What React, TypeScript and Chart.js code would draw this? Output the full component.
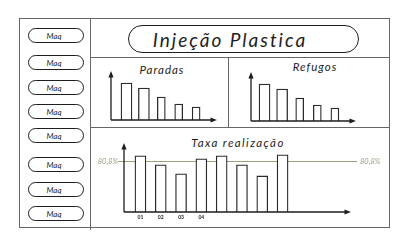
import React, { useEffect, useRef } from "react";
import { Chart, registerables } from "chart.js";

Chart.register(...registerables);

// ---- data ----
const machineLabels = ["Maq", "Maq", "Maq", "Maq", "Maq", "Maq", "Maq", "Maq"];
const pageTitle = "Injeção Plastica";

const paradasTitle = "Paradas";
const paradasValues = [37, 32, 23, 16, 13];

const refugosTitle = "Refugos";
const refugosValues = [37, 32, 23, 16, 13];

const taxaTitle = "Taxa realização";
const taxaCategories = ["01", "02", "03", "04", "", "", "", ""];
const taxaValues = [88.7, 74.5, 60.2, 84, 88.7, 74.5, 57, 90.3];
const taxaTarget = 80.8;
const taxaTargetLabel = "80,8%";

const HAND = "Lato, 'Liberation Sans', 'DejaVu Sans', sans-serif";
const INK = "#1e1e1e";
const FRAME = "#666";
const OLIVE = "#9ea07c";

type Rect = { left: number; top: number; width: number; height: number };

function drawAxes(chart: any) {
  const { ctx, chartArea: a } = chart;
  ctx.save();
  ctx.strokeStyle = INK;
  ctx.fillStyle = INK;
  ctx.lineWidth = 1.3;
  ctx.beginPath();
  ctx.moveTo(a.left, a.bottom);
  ctx.lineTo(a.left, a.top + 5);
  ctx.moveTo(a.left, a.bottom);
  ctx.lineTo(a.right - 5, a.bottom);
  ctx.stroke();
  ctx.beginPath();
  ctx.moveTo(a.left, a.top);
  ctx.lineTo(a.left - 2.6, a.top + 6.5);
  ctx.lineTo(a.left + 2.6, a.top + 6.5);
  ctx.closePath();
  ctx.fill();
  ctx.beginPath();
  ctx.moveTo(a.right, a.bottom);
  ctx.lineTo(a.right - 6.5, a.bottom - 2.6);
  ctx.lineTo(a.right - 6.5, a.bottom + 2.6);
  ctx.closePath();
  ctx.fill();
  ctx.restore();
}

const axesPlugin = {
  id: "sketchAxes",
  afterDatasetsDraw(chart: any) {
    drawAxes(chart);
  },
};

function SketchChart({ rect, config }: { rect: Rect; config: any }) {
  const ref = useRef<HTMLCanvasElement | null>(null);
  useEffect(() => {
    if (!ref.current) return;
    const chart = new Chart(ref.current, config);
    return () => chart.destroy();
  }, []);
  return (
    <canvas
      ref={ref}
      width={rect.width}
      height={rect.height}
      style={{ position: "absolute", left: rect.left, top: rect.top, width: rect.width, height: rect.height }}
    />
  );
}

function barStyle(thickness: number) {
  return {
    backgroundColor: "#fff",
    borderColor: "#2a2a2a",
    borderWidth: 1.3,
    barThickness: thickness,
    grouped: false,
  };
}

function xScale(min: number, max: number) {
  return { type: "linear", min, max, offset: false, display: false, grid: { offset: false } };
}

function smallBarConfig(values: number[], padding: any, xMin: number, xMax: number, yMax: number) {
  const pts = values.map((v, i) => ({ x: i, y: v }));
  return {
    type: "bar",
    data: {
      datasets: [
        { data: pts.filter((p) => p.x < 2), ...barStyle(11) },
        { data: pts.filter((p) => p.x >= 2), ...barStyle(8) },
      ],
    },
    options: {
      animation: false,
      responsive: false,
      layout: { padding },
      plugins: { legend: { display: false }, tooltip: { enabled: false }, title: { display: false } },
      scales: {
        x: xScale(xMin, xMax),
        y: { min: 0, max: yMax, display: false },
      },
    },
    plugins: [axesPlugin],
  };
}

const taxaPlugin = {
  id: "taxaExtras",
  beforeDatasetsDraw(chart: any) {
    const { ctx, chartArea: a, scales } = chart;
    const y = Math.round(scales.y.getPixelForValue(taxaTarget)) + 0.5;
    ctx.save();
    ctx.strokeStyle = OLIVE;
    ctx.lineWidth = 1;
    ctx.beginPath();
    ctx.moveTo(a.left - 6, y);
    ctx.lineTo(a.right + 6, y);
    ctx.stroke();
    ctx.fillStyle = OLIVE;
    ctx.font = `italic 7.5px ${HAND}`;
    ctx.textBaseline = "middle";
    ctx.textAlign = "right";
    ctx.fillText(taxaTargetLabel, a.left - 6, y);
    ctx.textAlign = "left";
    ctx.fillText(taxaTargetLabel, a.right + 9, y);
    ctx.restore();
  },
  afterDraw(chart: any) {
    const { ctx, chartArea: a, scales } = chart;
    ctx.save();
    ctx.fillStyle = INK;
    ctx.font = `bold 5px ${HAND}`;
    ctx.textAlign = "center";
    ctx.textBaseline = "middle";
    taxaCategories.forEach((c, i) => {
      if (c) ctx.fillText(c, scales.x.getPixelForValue(i), a.bottom + 5);
    });
    ctx.restore();
  },
};

const paradasConfig = smallBarConfig(paradasValues, { left: 19, right: 9, top: 11, bottom: 5 }, -0.89, 5.2, 49);
const refugosConfig = smallBarConfig(refugosValues, { left: 21, right: 32, top: 12, bottom: 4 }, -0.77, 5.2, 49);

const taxaConfig = {
  type: "bar",
  data: {
    datasets: [{ data: taxaValues.map((v, i) => ({ x: i, y: v })), ...barStyle(11) }],
  },
  options: {
    animation: false,
    responsive: false,
    layout: { padding: { left: 32, right: 37, top: 13, bottom: 14 } },
    plugins: { legend: { display: false }, tooltip: { enabled: false }, title: { display: false } },
    scales: {
      x: xScale(-0.81, 10.37),
      y: { min: 0, max: 109, display: false },
    },
  },
  plugins: [axesPlugin, taxaPlugin],
};

const line = (s: React.CSSProperties): React.CSSProperties => ({ position: "absolute", background: FRAME, ...s });

const handText: React.CSSProperties = {
  position: "absolute",
  fontFamily: HAND,
  fontStyle: "italic",
  fontWeight: 400,
  color: INK,
  whiteSpace: "nowrap",
  textAlign: "center",
  lineHeight: 1,
};

const pillTops = [28, 55, 80, 104, 128, 157, 182, 206];

export default function App() {
  return (
    <div style={{ position: "fixed", left: 0, top: 0, width: 414, height: 248, background: "#fff", overflow: "hidden" }}>
      {/* outer frame */}
      <div style={{ position: "absolute", left: 19, top: 18, width: 371, height: 210, border: `1.3px solid ${FRAME}`, boxSizing: "border-box" }} />
      <div style={line({ left: 89.5, top: 18, width: 1.3, height: 212 })} />
      <div style={line({ left: 90, top: 56.5, width: 300, height: 1.3 })} />
      <div style={line({ left: 227.5, top: 57, width: 1.3, height: 70 })} />
      <div style={line({ left: 90, top: 126.5, width: 300, height: 1.3 })} />

      {/* machine pills */}
      {machineLabels.map((m, i) => (
        <div
          key={i}
          style={{
            position: "absolute",
            left: 28,
            top: pillTops[i],
            width: 56,
            height: 15,
            border: `1.2px solid ${INK}`,
            borderRadius: 8,
            boxSizing: "border-box",
            display: "flex",
            alignItems: "center",
            justifyContent: "center",
            paddingRight: 4,
            fontFamily: HAND,
            fontStyle: "italic",
            fontSize: 8,
            color: INK,
          }}
        >
          {m}
        </div>
      ))}

      {/* title pill */}
      <div
        style={{
          position: "absolute",
          left: 128,
          top: 25,
          width: 231,
          height: 28,
          border: `1.2px solid ${INK}`,
          borderRadius: 14,
          boxSizing: "border-box",
        }}
      />
      <div style={{ ...handText, left: 128, top: 30, width: 204, fontSize: 19, letterSpacing: 2 }}>{pageTitle}</div>

      <div style={{ ...handText, left: 112, top: 64, width: 100, fontSize: 11.5, letterSpacing: 1 }}>{paradasTitle}</div>
      <div style={{ ...handText, left: 265, top: 61, width: 100, fontSize: 11.5, letterSpacing: 1 }}>{refugosTitle}</div>
      <div style={{ ...handText, left: 178, top: 137, width: 120, fontSize: 11.5, letterSpacing: 1.4 }}>{taxaTitle}</div>

      <SketchChart rect={{ left: 92, top: 60, width: 134, height: 65 }} config={paradasConfig} />
      <SketchChart rect={{ left: 230, top: 60, width: 158, height: 65 }} config={refugosConfig} />
      <SketchChart rect={{ left: 92, top: 130, width: 296, height: 96 }} config={taxaConfig} />
    </div>
  );
}
